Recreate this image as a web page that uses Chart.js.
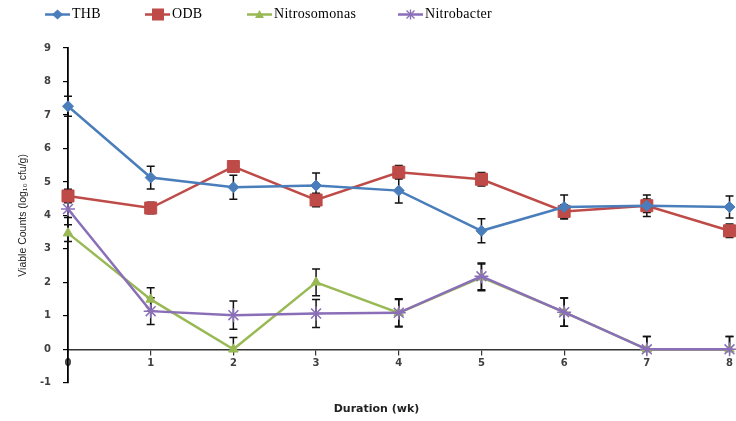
<!DOCTYPE html>
<html>
<head>
<meta charset="utf-8">
<script src="https://cdn.jsdelivr.net/npm/chart.js@4.4.1/dist/chart.umd.min.js"></script>
<style>
    html, body { margin: 0; padding: 0; background: #fff; }
    #wrap { position: relative; width: 736px; height: 421px; }
    .legend-item {
        position: absolute; top: 5px; height: 18px; line-height: 18px;
        font-family: "Liberation Serif", serif; font-size: 14px; letter-spacing: 0.3px; color: #000;
        white-space: nowrap;
    }
    .legend-item svg { position: absolute; left: 0; top: 3px; }
    .legend-item span { position: absolute; left: 27px; top: 0; }
</style>
</head>
<body>
<div id="wrap">
    <canvas id="chart" width="736" height="421"></canvas>
</div>
<script>
// data
const weeks = ['0', '1', '2', '3', '4', '5', '6', '7', '8'];

const thb = [7.26, 5.13, 4.84, 4.89, 4.74, 3.54, 4.25, 4.29, 4.25];
const thbErr = [0.3, 0.34, 0.36, 0.38, 0.37, 0.36, 0.36, 0.32, 0.33];

const odb = [4.58, 4.22, 5.46, 4.46, 5.29, 5.08, 4.12, 4.29, 3.54];
const odbErr = [0.2, 0.17, 0.15, 0.2, 0.2, 0.2, 0.2, 0.2, 0.2];

const nitrosomonas = [3.47, 1.49, 0, 2.0, 1.09, 2.15, 1.11, 0, 0];
const nitrosomonasErr = [0.25, 0.35, 0.35, 0.4, 0.4, 0.4, 0.42, 0.38, 0.38];

const nitrobacter = [4.19, 1.14, 1.02, 1.07, 1.09, 2.18, 1.11, 0, 0];
const nitrobacterErr = [0.25, 0.4, 0.42, 0.42, 0.42, 0.4, 0.42, 0.38, 0.38];

const yMin = -1, yMax = 9, yStep = 1;

const series = [
    { label: 'THB', data: thb, errors: thbErr, color: '#4a7ebb', pointStyle: 'rectRot', pointRadius: 5.5, order: 0 },
    { label: 'ODB', data: odb, errors: odbErr, color: '#be4b48', pointStyle: 'rect', pointRadius: 8.5, order: 1 },
    { label: 'Nitrosomonas', data: nitrosomonas, errors: nitrosomonasErr, color: '#98b954', pointStyle: 'triangle', pointRadius: 5.5, order: 3 },
    { label: 'Nitrobacter', data: nitrobacter, errors: nitrobacterErr, color: '#8a6fb8', pointStyle: 'star', pointRadius: 7, order: 2 }
];

// error bars go under the markers
const errorBars = {
    id: 'errorBars',
    beforeDatasetsDraw(chart) {
        const { ctx, scales: { x, y } } = chart;
        ctx.save();
        ctx.strokeStyle = '#111';
        ctx.lineWidth = 1.5;
        chart.data.datasets.forEach(ds => {
            ds.data.forEach((v, i) => {
                const e = ds.errors[i];
                if (!e) return;
                const px = x.getPixelForValue(i);
                const top = y.getPixelForValue(v + e);
                const bot = y.getPixelForValue(Math.max(v - e, 0));
                ctx.beginPath();
                ctx.moveTo(px, top); ctx.lineTo(px, bot);
                ctx.moveTo(px - 4, top); ctx.lineTo(px + 4, top);
                if (v - e > 0) { ctx.moveTo(px - 4, bot); ctx.lineTo(px + 4, bot); }
                ctx.stroke();
            });
        });
        ctx.restore();
    }
};

const tickFont = { family: 'DejaVu Sans', size: 10, weight: 'bold' };

new Chart(document.getElementById('chart'), {
    type: 'line',
    data: {
        labels: weeks,
        datasets: series.map(s => ({
            label: s.label,
            data: s.data,
            errors: s.errors,
            order: s.order,
            borderColor: s.color,
            backgroundColor: s.color,
            borderWidth: 2.5,
            pointStyle: s.pointStyle,
            pointRadius: s.pointRadius,
            pointBorderWidth: s.pointStyle === 'star' ? 1.5 : 1,
            pointBorderColor: s.color,
            pointBackgroundColor: s.color,
            tension: 0,
            clip: false
        }))
    },
    options: {
        responsive: false,
        animation: false,
        layout: { autoPadding: false, padding: { left: 17, right: 0, top: 48, bottom: 0 } },
        plugins: {
            legend: { display: false },
            tooltip: { enabled: false },
            title: {
                display: true,
                text: 'Duration (wk)',
                position: 'bottom',
                color: '#222',
                font: { family: 'DejaVu Sans', size: 11, weight: 'bold' },
                padding: { top: 20, bottom: 5 }
            }
        },
        scales: {
            x: {
                type: 'category',
                position: { y: 0 },
                offset: false,
                grid: { drawOnChartArea: false, tickLength: 5, color: '#333', lineWidth: 1.2 },
                border: { color: '#333', width: 1.5 },
                ticks: { color: '#404040', font: tickFont, padding: 3, maxRotation: 0, autoSkip: false },
                afterFit(s) { s.height = 0; }
            },
            y: {
                min: yMin,
                max: yMax,
                ticks: { stepSize: yStep, color: '#404040', font: tickFont, padding: 12 },
                grid: { drawOnChartArea: false, tickLength: 5, color: '#000', lineWidth: 1.2 },
                border: { color: '#000', width: 1.8 },
                title: {
                    display: true,
                    text: 'Viable Counts (log\u2081\u2080 cfu/g)',
                    color: '#222',
                    font: { family: 'Liberation Sans', size: 10.5 },
                    padding: { top: 0, bottom: 0 }
                },
                afterFit(s) { s.width = 51; }
            }
        }
    },
    plugins: [errorBars]
});

// legend: line with marker, then name
const legendLeft = [45, 145, 247, 398];
const markerSvg = {
    rectRot: c => `<polygon points="12.5,1.5 18,6.5 12.5,11.5 7,6.5" fill="${c}"/>`,
    rect: c => `<rect x="7" y="0.5" width="12" height="12" fill="${c}"/>`,
    triangle: c => `<polygon points="12.5,2 17,10 8,10" fill="${c}"/>`,
    star: c => `<path d="M8.5,2.5 L16.5,10.5 M16.5,2.5 L8.5,10.5 M12.5,1.5 L12.5,11.5" stroke="${c}" stroke-width="1.3" fill="none"/>`
};
const wrap = document.getElementById('wrap');
series.forEach((s, i) => {
    const item = document.createElement('div');
    item.className = 'legend-item';
    item.style.left = legendLeft[i] + 'px';
    item.innerHTML = `<svg width="25" height="13"><line x1="0" y1="6.5" x2="25" y2="6.5" stroke="${s.color}" stroke-width="2.5"/>` +
        markerSvg[s.pointStyle](s.color) + `</svg><span>${s.label}</span>`;
    wrap.appendChild(item);
});
</script>
</body>
</html>
